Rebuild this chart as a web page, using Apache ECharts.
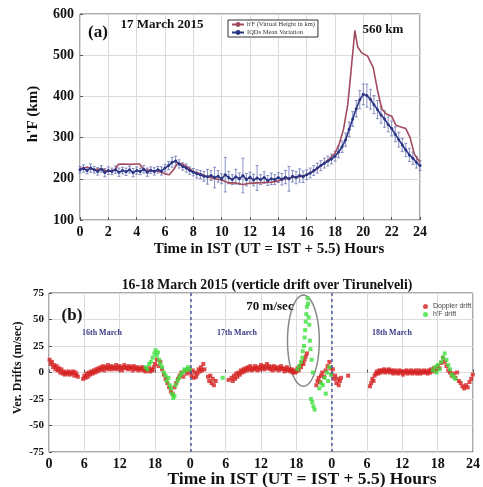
<!DOCTYPE html>
<html><head><meta charset="utf-8">
<script src="https://cdn.jsdelivr.net/npm/echarts@6/dist/echarts.min.js"></script>
<style>html,body{margin:0;padding:0;background:#fff}#c{width:483px;height:487px}</style>
</head><body><div id="c"></div>
<script>
// ---------- Panel (a) data ----------
var aXTicks = [0,2,4,6,8,10,12,14,16,18,20,22,24];
var redHours = [0,0.5,1,1.5,2,2.5,2.7,3,3.5,4,4.2,4.5,5,5.5,6,6.3,6.6,6.9,7.2,7.6,8,8.5,9,9.5,10,10.5,11,11.5,12,12.5,13,13.5,14,14.5,15,15.5,16,16.5,17,17.5,18,18.3,18.6,18.9,19.1,19.4,19.6,19.9,20.3,20.7,21,21.3,21.6,22,22.3,22.7,23,23.3,23.6,24];
var redVals = [225,228,222,224,218,222,235,236,235,236,236,222,220,219,212,210,222,238,236,228,218,212,205,200,197,190,190,186,189,190,191,192,195,200,203,205,210,218,232,245,262,285,320,380,450,560,520,505,498,470,415,370,358,352,330,325,322,300,260,240];
var meanStep = 0.25; // sampling interval of the quiet-day mean (hours)
var meanVals = [222,225,220,226,222,218,224,215,220,218,222,216,220,217,222,215,220,218,223,216,221,218,222,219,226,232,240,243,236,230,226,220,216,212,210,206,205,208,203,206,200,210,203,198,205,200,208,198,204,197,202,198,203,196,200,198,203,199,204,200,206,203,208,205,210,214,220,226,232,238,243,248,255,265,278,295,320,345,370,392,405,402,393,380,368,355,345,332,322,308,295,282,270,258,250,240,232];
var meanErr = [8,9,8,10,8,9,8,10,9,8,9,10,8,9,8,10,9,8,9,10,8,9,8,10,9,10,12,12,10,9,10,9,9,10,10,12,18,12,25,14,12,42,15,12,18,14,42,15,12,14,30,12,14,12,14,12,12,14,16,30,14,15,16,14,12,12,12,12,12,12,12,12,12,14,14,16,18,18,20,22,25,28,24,22,22,20,20,18,18,18,18,16,16,16,15,14,12];

// ---------- Panel (b) data ----------
var bXTicks = [0,6,12,18,24,30,36,42,48,54,60,66,72];
var dopHours = [0.1,0.3,0.5,0.7,0.9,1.1,1.3,1.5,1.7,1.9,2.1,2.3,2.5,2.7,2.9,3.1,3.3,3.5,3.7,3.9,4.1,4.3,4.5,4.7,4.9,
5.8,6.0,6.2,6.4,6.6,6.8,7.0,7.2,7.4,7.6,7.8,8.0,8.2,8.4,8.6,8.8,9.0,9.2,9.4,9.6,9.8,10.0,10.2,10.4,10.6,10.8,11.0,11.2,11.4,11.6,11.8,12.0,12.2,12.4,12.6,12.8,13.0,13.2,13.4,13.6,13.8,14.0,14.2,14.4,14.6,14.8,15.0,15.2,15.4,15.6,15.8,16.0,16.2,16.4,16.6,16.8,17.0,17.2,17.4,17.6,17.8,18.0,18.3,18.6,18.9,19.2,19.5,19.8,20.1,20.4,20.7,21.0,21.3,21.6,21.9,22.2,22.5,22.8,23.1,23.4,23.7,24.0,
24.2,24.4,24.6,24.8,25.0,25.2,25.4,25.6,25.8,26.0,26.2,26.4,27.0,27.2,27.4,27.6,27.8,28.0,28.3,30.5,
31.0,31.2,31.4,31.6,31.8,32.0,32.2,32.4,32.6,32.8,33.0,33.2,33.4,33.6,33.8,34.0,34.2,34.4,34.6,34.8,35.0,35.2,35.4,35.6,35.8,36.0,36.2,36.4,36.6,36.8,37.0,37.2,37.4,37.6,37.8,38.0,38.2,38.4,38.6,38.8,39.0,39.2,39.4,39.6,39.8,40.0,40.2,40.4,40.6,40.8,41.0,41.2,41.4,41.6,41.8,42.0,42.2,42.4,42.6,42.8,43.0,43.2,43.4,43.6,43.8,
45.4,45.6,45.8,46.0,46.2,46.4,46.7,47.0,47.3,47.6,47.8,48.0,48.2,48.4,48.6,48.8,49.0,49.2,49.4,49.6,50.8,
54.5,54.7,54.9,55.1,55.3,55.5,55.7,55.9,56.1,56.3,56.5,56.7,56.9,57.1,57.3,57.5,57.7,57.9,58.1,58.3,58.5,58.7,58.9,59.1,59.3,59.5,59.7,59.9,60.1,60.3,60.5,60.7,60.9,61.1,61.3,61.5,61.7,61.9,62.1,62.3,62.5,62.7,62.9,63.1,63.3,63.5,63.7,63.9,64.1,64.3,64.5,64.7,64.9,65.1,65.4,65.7,66.0,66.3,66.6,66.9,67.2,67.5,67.8,68.1,68.4,68.7,69.0,69.3,69.6,69.9,70.2,70.5,70.8,71.1,71.4,71.7,71.95];
var dopVals = [12,8,10,5,7,3,6,2,4,0,3,-1,1,-2,0,-1,1,-2,0,-1,1,-3,0,-2,-4,
-6,-3,-5,-1,-4,0,-2,1,-1,2,0,3,1,4,2,5,3,6,2,5,4,7,3,5,6,3,5,4,7,3,5,6,4,2,5,7,4,5,3,6,4,5,2,6,4,3,5,2,4,3,5,2,4,1,3,2,4,1,3,2,5,8,12,6,10,3,-2,-6,-10,-14,-18,-20,-14,-10,-6,-3,0,-4,2,-1,3,0,
-3,2,-5,0,-4,-1,3,1,5,2,8,3,-4,-8,-3,-10,-6,-12,-8,-7,
-5,-8,-3,-6,-1,-4,0,-2,2,0,3,1,4,2,5,3,6,2,4,3,6,4,2,5,3,7,4,6,3,5,8,4,6,3,5,2,6,4,3,5,2,4,6,3,4,1,3,5,2,3,1,3,0,2,0,1,4,2,6,5,9,8,12,15,18,
-12,-8,-5,-9,-3,0,-4,2,6,10,4,-2,3,-6,-3,-10,-6,-12,-8,-5,-3,
-13,-10,-6,-8,-3,-1,1,-1,2,0,2,1,3,0,2,1,3,0,2,1,-1,2,0,1,-1,2,0,1,-2,1,0,2,-1,1,0,2,-1,1,0,2,-1,0,2,-1,1,0,2,0,1,-1,2,0,3,1,4,2,6,4,9,14,10,6,2,0,-3,-1,-5,0,-8,-10,-13,-15,-12,-14,-9,-6,-2];
var hfHours = [16.4,16.7,17.0,17.3,17.6,17.9,18.1,18.3,18.5,18.7,18.9,19.2,19.5,19.8,20.0,20.3,20.5,20.7,20.9,21.1,21.3,21.5,21.8,22.1,22.4,22.7,23.0,23.3,23.6,23.9,
29.5,
42.2,42.5,42.8,43.0,43.1,43.3,43.4,43.5,43.6,43.7,43.8,43.9,44.0,44.1,44.2,44.3,44.4,44.6,44.8,44.5,44.7,44.9,45.1,45.9,46.2,46.5,46.8,47.0,47.2,47.4,47.6,47.9,
65.2,65.5,65.8,66.0,66.3,66.6,66.9,67.2,67.5,67.8,68.1,68.4,68.7,69.0];
var hfVals = [5,3,8,10,14,18,21,16,19,12,8,5,0,-3,-8,-5,-12,-15,-20,-24,-22,-12,-8,-5,-2,0,3,2,5,3,
-5,
3,6,10,14,20,25,33,40,48,55,62,70,65,52,45,30,22,12,0,-25,-28,-32,-35,-15,-10,-12,-5,-20,0,-8,5,-2,
2,5,0,7,3,10,14,18,12,7,3,-2,-4,-6];
// encircled peak: centre hour, centre value, half-width (h), half-height (m/s)
var ringCentre = [43.2, 30]; var ringHalf = [2.7, 43];
var dayLines = [24, 48];

var SERIF = '"Liberation Serif","DejaVu Serif",serif';
var chart = echarts.init(document.getElementById('c'), null, {renderer:'canvas'});

var meanData = meanVals.map(function(v,i){return [i*meanStep, v];});
var lowData = meanVals.map(function(v,i){return [i*meanStep, v-meanErr[i]];});
var bandData = meanVals.map(function(v,i){return [i*meanStep, 2*meanErr[i]];});
var errData = meanVals.map(function(v,i){return [i*meanStep, v, meanErr[i]];});
var redData = redHours.map(function(h,i){return [h, redVals[i]];});
var dopData = dopHours.map(function(h,i){return [h, dopVals[i]];});
var hfData = hfHours.map(function(h,i){return [h, hfVals[i]];});

var axisLab = {fontFamily:SERIF, fontWeight:'bold', color:'#111'};
function txt(x, y, s, font, color, rot){
  return {type:'text', x:x, y:y, rotation:rot||0, z:100,
    style:{text:s, font:font, fill:color||'#111', align:'center', verticalAlign:'middle'}};
}

var option = {
  animation:false,
  backgroundColor:'#fff',
  grid:[
    {left:80, top:14, width:340, height:206, show:true, borderColor:'#555', borderWidth:1},
    {left:49, top:293, width:432, height:159, show:true, borderColor:'#555', borderWidth:1}
  ],
  legend:[
    {left:228, top:20, orient:'vertical', itemGap:1, itemWidth:12, itemHeight:6,
     padding:[1,3,1,3], borderColor:'#333', borderWidth:1, backgroundColor:'#fff',
     textStyle:{fontSize:6.5, fontFamily:SERIF, color:'#333', padding:[0,0,0,-2]},
     data:["h'F (Virtual Height in km)", 'IQDs Mean Variation']},
    {left:418, top:298, orient:'vertical', itemGap:1, itemWidth:5, itemHeight:5,
     textStyle:{fontSize:7, fontFamily:'"Liberation Sans",sans-serif', color:'#444'},
     data:[{name:'Doppler drift', icon:'circle'}, {name:"h'F drift", icon:'circle'}]}
  ],
  xAxis:[
    {gridIndex:0, type:'value', min:0, max:24, interval:2,
     axisLine:{show:false}, axisTick:{inside:true, length:3, lineStyle:{color:'#555'}},
     axisLabel:Object.assign({fontSize:14, margin:5}, axisLab),
     splitLine:{show:true, lineStyle:{color:'#dcdcdc'}}},
    {gridIndex:1, type:'value', min:0, max:72, interval:6,
     axisLine:{show:false}, axisTick:{inside:true, length:3, lineStyle:{color:'#555'}},
     axisLabel:Object.assign({fontSize:14, margin:5, formatter:function(v){return v===72?'24':String(v%24);}}, axisLab),
     splitLine:{show:true, lineStyle:{color:'#dcdcdc'}}}
  ],
  yAxis:[
    {gridIndex:0, type:'value', min:100, max:600, interval:100,
     axisLine:{show:false}, axisTick:{inside:true, length:3, lineStyle:{color:'#555'}},
     axisLabel:Object.assign({fontSize:14, margin:6}, axisLab),
     splitLine:{show:true, lineStyle:{color:'#dcdcdc'}}},
    {gridIndex:1, type:'value', min:-75, max:75, interval:25,
     axisLine:{show:false}, axisTick:{inside:true, length:3, lineStyle:{color:'#555'}},
     axisLabel:Object.assign({fontSize:11, margin:5}, axisLab),
     splitLine:{show:true, lineStyle:{color:'#dcdcdc'}}}
  ],
  series:[
    {name:'band-low', type:'line', xAxisIndex:0, yAxisIndex:0, stack:'band', data:lowData,
     symbol:'none', lineStyle:{opacity:0}, silent:true},
    {name:'band', type:'line', xAxisIndex:0, yAxisIndex:0, stack:'band', data:bandData,
     symbol:'none', lineStyle:{opacity:0}, areaStyle:{color:'#aab3de', opacity:0.9}, silent:true},
    {name:'errbars', type:'custom', xAxisIndex:0, yAxisIndex:0, data:errData,
     renderItem:function(params, api){
       var x=api.value(0), m=api.value(1), e=api.value(2);
       var top=api.coord([x,m+e]), bot=api.coord([x,m-e]);
       var st={stroke:'#6a73b5', lineWidth:0.8};
       return {type:'group', children:[
         {type:'line', shape:{x1:top[0],y1:top[1],x2:bot[0],y2:bot[1]}, style:st},
         {type:'line', shape:{x1:top[0]-1.5,y1:top[1],x2:top[0]+1.5,y2:top[1]}, style:st},
         {type:'line', shape:{x1:bot[0]-1.5,y1:bot[1],x2:bot[0]+1.5,y2:bot[1]}, style:st}
       ]};
     }},
    {name:"h'F (Virtual Height in km)", type:'line', xAxisIndex:0, yAxisIndex:0, data:redData,
     symbol:'none', lineStyle:{color:'#a04a5e', width:1.6}, itemStyle:{color:'#a04a5e'}},
    {name:'IQDs Mean Variation', type:'line', xAxisIndex:0, yAxisIndex:0, data:meanData,
     symbol:'circle', symbolSize:3, lineStyle:{color:'#2b3585', width:1.6}, itemStyle:{color:'#2b3585'}},
    {name:'Doppler drift', type:'scatter', xAxisIndex:1, yAxisIndex:1, data:dopData,
     symbol:'rect', symbolSize:4, itemStyle:{color:'#d42020'},
     markLine:{silent:true, symbol:'none', label:{show:false},
       lineStyle:{color:'#4c5aa0', type:[3,3], width:1.5},
       data:dayLines.map(function(d){return {xAxis:d};})}},
    {name:"h'F drift", type:'scatter', xAxisIndex:1, yAxisIndex:1, data:hfData,
     symbol:'rect', symbolSize:4, itemStyle:{color:'#3ee03e'}},
    {name:'ring', type:'custom', xAxisIndex:1, yAxisIndex:1, data:[[ringCentre[0], ringCentre[1], ringHalf[0], ringHalf[1]]],
     renderItem:function(params, api){
       var cx=api.value(0), cy=api.value(1), rx=api.value(2), ry=api.value(3), pts=[];
       for (var k=0;k<=72;k++){ var t=k/72*2*Math.PI; pts.push(api.coord([cx+rx*Math.cos(t), cy+ry*Math.sin(t)])); }
       return {type:'polyline', shape:{points:pts}, style:{stroke:'#888', lineWidth:1.5, fill:null}};
     }}
  ],
  graphic:[
    txt(98, 33, '(a)', 'bold 17px '+SERIF),
    txt(162, 25, '17 March 2015', 'bold 13px '+SERIF),
    txt(383, 30, '560 km', 'bold 13px '+SERIF),
    txt(269, 249, 'Time in IST (UT = IST + 5.5) Hours', 'bold 15px '+SERIF),
    txt(33, 114, "h'F (km)", 'bold 15px '+SERIF, '#111', Math.PI/2),
    txt(267, 285, '16-18 March 2015 (verticle drift over Tirunelveli)', 'bold 13.8px '+SERIF),
    txt(72, 316, '(b)', 'bold 17px '+SERIF),
    txt(270, 307, '70 m/sec', 'bold 13px '+SERIF),
    txt(102, 333, '16th March', 'bold 8px '+SERIF, '#3a3a85'),
    txt(237, 333, '17th March', 'bold 8px '+SERIF, '#3a3a85'),
    txt(392, 333, '18th March', 'bold 8px '+SERIF, '#3a3a85'),
    txt(302, 479, 'Time in IST (UT = IST + 5.5) Hours', 'bold 17.5px '+SERIF),
    txt(18, 368, 'Ver. Drifts (m/sec)', 'bold 12px '+SERIF, '#111', Math.PI/2)
  ]
};
chart.setOption(option);
</script></body></html>
